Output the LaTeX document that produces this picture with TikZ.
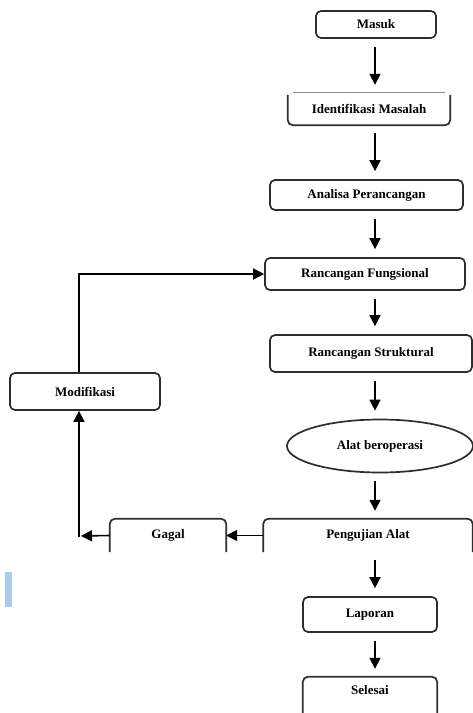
\documentclass[tikz,border=0pt]{standalone}
\usepackage{fontspec}
\setmainfont{Liberation Serif}
\usetikzlibrary{arrows.meta,shapes.geometric,calc}
\definecolor{cursorblue}{RGB}{172,204,238}
\definecolor{edge}{RGB}{45,45,45}
\begin{document}
\begin{tikzpicture}[x=1pt,y=-1pt,
  txt/.style={font=\fontsize{13}{15}\bfseries\selectfont,inner sep=0pt},
  box/.style={txt,draw=edge,line width=1.7pt,rounded corners=5pt},
  openbox/.style={txt},
  edgeline/.style={draw=edge,line width=1.7pt,rounded corners=5pt},
  ellbox/.style={txt,ellipse,draw=edge,line width=1.7pt},
  arr/.style={line width=1.6pt,-{Triangle[length=11pt,width=11pt]},shorten <=8pt,shorten >=8pt},
  arrb/.style={line width=1.6pt,-{Triangle[length=11pt,width=11pt]}}
]
\useasboundingbox (0,0) rectangle (473,713);

% nodes
\node[box,minimum width=120pt,minimum height=27pt] (masuk) at (376,24.5) {Masuk};
\node[openbox,minimum width=162pt,minimum height=32pt] (ident) at (369,109) {Identifikasi Masalah};
\node[box,minimum width=193pt,minimum height=30pt] (anal) at (366.5,195) {Analisa Perancangan};
\node[box,minimum width=200pt,minimum height=32pt] (fung) at (365,274) {Rancangan Fungsional};
\node[box,minimum width=202pt,minimum height=37pt] (strk) at (371,353.5) {Rancangan Struktural};
\node[ellbox,minimum width=186pt,minimum height=53pt] (alat) at (380,446) {Alat beroperasi};
\node[openbox,minimum width=209pt,minimum height=33pt] (peng) at (368,535.5) {Pengujian Alat};
\node[openbox,minimum width=116pt,minimum height=33pt] (gagal) at (168,535.5) {Gagal};
\node[box,minimum width=150pt,minimum height=37pt] (mod) at (85,391.5) {Modifikasi};
\node[box,minimum width=134pt,minimum height=35pt] (lap) at (370,614.5) {Laporan};
\node[openbox,minimum width=134pt,minimum height=26pt] (sel) at (370,690) {Selesai};

% partial borders
\draw[edgeline] ($(ident.north west)+(0,2)$) -- (ident.south west) -- (ident.south east) -- ($(ident.north east)+(0,2)$);
\draw[draw=black!45,line width=0.8pt] ($(ident.north west)+(5,0)$) -- ($(ident.north east)+(-5,0)$);
\draw[edgeline] (peng.south west) -- (peng.north west) -- (peng.north east) -- (peng.south east);
\draw[edgeline] (gagal.south west) -- (gagal.north west) -- (gagal.north east) -- (gagal.south east);
\draw[edgeline] ($(sel.south west)+(0,12)$) -- (sel.north west) -- (sel.north east) -- ($(sel.south east)+(0,12)$);

% main flow arrows
\coordinate (ax) at (375,0);
\coordinate (xf) at (79,0);
\coordinate (corner) at (79,536);
\draw[arr] (masuk.south -| ax) -- (ident.north -| ax);
\draw[arr] (ident.south -| ax) -- (anal.north -| ax);
\draw[arr] (anal.south -| ax) -- (fung.north -| ax);
\draw[arr] (fung.south -| ax) -- (strk.north -| ax);
\draw[arr] (strk.south -| ax) -- (alat.north -| ax);
\draw[arr] (alat.south -| ax) -- (peng.north -| ax);
\draw[arr] (peng.south -| ax) -- (lap.north -| ax);
\draw[arr] (lap.south -| ax) -- (sel.north -| ax);

% feedback
\draw[arrb] (peng.west) -- (gagal.east);
\draw[arrb,shorten >=2pt] (gagal.west) -- (corner);
\draw[arrb,line cap=rect] (corner) -- (mod.south -| xf);
\draw[arrb] (mod.north -| xf) |- (fung.west);

% cursor mark
\fill[cursorblue] (5,572) rectangle (12,607);
\end{tikzpicture}
\end{document}
